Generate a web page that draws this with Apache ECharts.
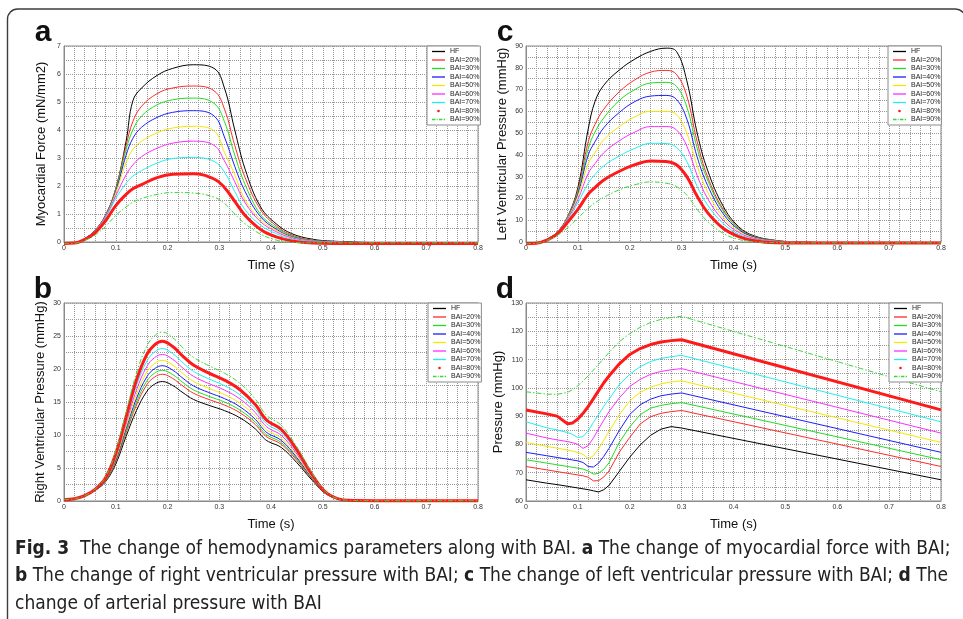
<!DOCTYPE html>
<html>
<head>
<meta charset="utf-8">
<title>Fig. 3 hemodynamics vs BAI</title>
<script src="https://cdn.jsdelivr.net/npm/echarts@6/dist/echarts.min.js"></script>
<style>
  html, body { margin: 0; padding: 0; background: #fff; }
  #chart { width: 963px; height: 619px; }
</style>
</head>
<body>
<div id="chart"></div>
<script>
// legend names, same for all four panels
const seriesNames = ['HF', 'BAI=20%', 'BAI=30%', 'BAI=40%', 'BAI=50%', 'BAI=60%', 'BAI=70%', 'BAI=80%', 'BAI=90%'];
const xTicks = [0, 0.1, 0.2, 0.3, 0.4, 0.5, 0.6, 0.7, 0.8];

// a: myocardial force (mN/mm2)
const timeA = [0, 0.02, 0.04, 0.06, 0.08, 0.1, 0.12, 0.133, 0.15, 0.18, 0.21, 0.25, 0.29, 0.31, 0.33, 0.35, 0.38, 0.41, 0.44, 0.48, 0.52, 0.6, 0.7, 0.8];
const forceHF  = [-0.05, -0.03, 0.12, 0.42, 0.95, 1.9, 3.6, 5.04, 5.5, 5.95, 6.2, 6.33, 6.2, 5.5, 4.0, 2.6, 1.25, 0.65, 0.3, 0.1, 0.03, -0.02, -0.03, -0.02];
const force20  = [-0.05, -0.03, 0.12, 0.42, 0.95, 1.9, 3.45, 4.3, 4.85, 5.3, 5.5, 5.57, 5.4, 4.75, 3.45, 2.3, 1.15, 0.58, 0.25, 0.07, 0.01, -0.03, -0.03, -0.02];
const force30  = [-0.05, -0.03, 0.12, 0.41, 0.93, 1.85, 3.3, 4.0, 4.5, 4.9, 5.08, 5.14, 4.95, 4.3, 3.1, 2.05, 0.98, 0.52, 0.22, 0.06, 0.01, -0.03, -0.03, -0.02];
const force40  = [-0.05, -0.03, 0.12, 0.41, 0.92, 1.8, 3.1, 3.7, 4.1, 4.45, 4.63, 4.69, 4.5, 3.75, 2.7, 1.8, 0.9, 0.46, 0.19, 0.05, 0.0, -0.03, -0.03, -0.02];
const force50  = [-0.05, -0.03, 0.11, 0.4, 0.9, 1.75, 2.85, 3.3, 3.6, 3.9, 4.07, 4.13, 3.97, 3.2, 2.4, 1.5, 0.8, 0.42, 0.17, 0.04, 0.0, -0.03, -0.03, -0.02];
const force60  = [-0.05, -0.03, 0.11, 0.39, 0.88, 1.65, 2.4, 2.75, 3.05, 3.35, 3.53, 3.6, 3.45, 2.9, 2.15, 1.4, 0.72, 0.37, 0.15, 0.03, 0.0, -0.03, -0.03, -0.02];
const force70  = [-0.05, -0.03, 0.1, 0.37, 0.85, 1.55, 2.1, 2.35, 2.55, 2.82, 2.98, 3.02, 2.88, 2.5, 1.8, 1.15, 0.6, 0.3, 0.11, 0.02, -0.01, -0.03, -0.03, -0.02];
const force80  = [-0.05, -0.04, 0.09, 0.33, 0.75, 1.3, 1.7, 1.9, 2.05, 2.3, 2.42, 2.44, 2.25, 1.95, 1.45, 0.95, 0.45, 0.18, 0.04, -0.04, -0.05, -0.05, -0.05, -0.05];
const force90  = [-0.05, -0.04, 0.06, 0.25, 0.55, 0.95, 1.25, 1.42, 1.55, 1.7, 1.77, 1.75, 1.6, 1.38, 1.0, 0.65, 0.28, 0.07, -0.01, -0.03, -0.03, -0.03, -0.03, -0.03];

// b: right ventricular pressure (mmHg)
const timeB = [0, 0.02, 0.04, 0.06, 0.08, 0.1, 0.12, 0.14, 0.16, 0.175, 0.19, 0.21, 0.23, 0.25, 0.28, 0.31, 0.34, 0.37, 0.385, 0.395, 0.42, 0.45, 0.48, 0.51, 0.55, 0.6, 0.8];
const rvHF = [0.2, 0.35, 0.8, 1.6, 2.9, 5.6, 9.8, 13.7, 16.6, 17.7, 18.1, 17.5, 16.4, 15.4, 14.5, 13.7, 12.6, 10.9, 9.6, 9.0, 8.1, 5.8, 3.1, 0.9, 0.1, 0.05, 0.05];
const rv20 = [0.2, 0.35, 0.8, 1.63, 3.0, 5.89, 10.34, 14.54, 17.61, 18.78, 19.2, 18.57, 17.4, 16.34, 15.38, 14.54, 13.37, 11.56, 10.19, 9.55, 8.59, 6.15, 3.25, 0.93, 0.1, 0.05, 0.05];
const rv30 = [0.2, 0.35, 0.8, 1.64, 3.06, 6.05, 10.63, 14.99, 18.16, 19.36, 19.8, 19.15, 17.94, 16.85, 15.86, 14.99, 13.78, 11.92, 10.5, 9.85, 8.86, 6.35, 3.33, 0.97, 0.1, 0.05, 0.05];
const rv40 = [0.2, 0.35, 0.8, 1.66, 3.13, 6.23, 10.98, 15.52, 18.81, 20.05, 20.5, 19.83, 18.58, 17.45, 16.43, 15.52, 14.28, 12.35, 10.88, 10.2, 9.18, 6.57, 3.43, 0.98, 0.1, 0.05, 0.05];
const rv50 = [0.2, 0.35, 0.8, 1.68, 3.21, 6.44, 11.36, 16.12, 19.54, 20.83, 21.3, 20.6, 19.3, 18.13, 17.07, 16.12, 14.83, 12.83, 11.3, 10.59, 9.53, 6.83, 3.54, 1.0, 0.1, 0.05, 0.05];
const rv60 = [0.2, 0.35, 0.8, 1.71, 3.29, 6.68, 11.8, 16.81, 20.37, 21.72, 22.2, 21.47, 20.12, 18.9, 17.79, 16.81, 15.46, 13.37, 11.78, 11.04, 9.94, 7.12, 3.66, 1.02, 0.1, 0.05, 0.05];
const rv70 = [0.2, 0.35, 0.8, 1.73, 3.38, 6.91, 12.23, 17.48, 21.18, 22.59, 23.1, 22.33, 20.93, 19.65, 18.5, 17.48, 16.08, 13.91, 12.25, 11.48, 10.34, 7.4, 3.79, 1.05, 0.1, 0.05, 0.05];
const rv80 = [0.2, 0.35, 0.8, 1.76, 3.49, 7.2, 12.77, 18.32, 22.19, 23.66, 24.2, 23.4, 21.93, 20.59, 19.39, 18.32, 16.85, 14.57, 12.84, 12.03, 10.83, 7.75, 3.94, 1.08, 0.1, 0.05, 0.05];
const rv90 = [0.2, 0.35, 0.8, 1.8, 3.62, 7.57, 13.46, 19.37, 23.47, 25.03, 25.6, 24.75, 23.19, 21.78, 20.5, 19.37, 17.82, 15.41, 13.57, 12.73, 11.45, 8.2, 4.13, 1.12, 0.1, 0.05, 0.05];

// c: left ventricular pressure (mmHg)
const timeC = [0, 0.02, 0.04, 0.06, 0.08, 0.1, 0.12, 0.133, 0.15, 0.18, 0.21, 0.24, 0.27, 0.29, 0.31, 0.33, 0.35, 0.38, 0.41, 0.44, 0.48, 0.52, 0.6, 0.7, 0.8];
const lvHF = [-0.8, -0.5, 1.2, 4.5, 11.5, 25, 52, 64.5, 72, 79, 84, 87.5, 89, 87.5, 74, 50, 33, 16.5, 7, 2.8, 0.8, 0, -0.3, -0.3, -0.3];
const lv20 = [-0.8, -0.5, 1.2, 4.5, 11.5, 24, 46, 54, 61, 69, 74.5, 78, 78.8, 77, 67, 46, 30, 15, 6.5, 2.5, 0.7, 0, -0.3, -0.3, -0.3];
const lv30 = [-0.8, -0.5, 1.2, 4.5, 11.3, 23, 43, 50.5, 57, 65, 70, 73, 73.3, 71.5, 62, 43, 28.5, 14.3, 6.2, 2.4, 0.6, 0, -0.3, -0.3, -0.3];
const lv40 = [-0.8, -0.5, 1.2, 4.4, 11, 22, 40, 46, 52.5, 59.5, 64.5, 67, 67.3, 65.5, 56.5, 39, 26, 13, 5.7, 2.2, 0.5, 0, -0.3, -0.3, -0.3];
const lv50 = [-0.8, -0.5, 1.1, 4.3, 10.8, 21, 36, 41, 47, 53, 57.5, 60, 60, 58.5, 50, 35, 23, 11.5, 5, 1.9, 0.4, 0, -0.3, -0.3, -0.3];
const lv60 = [-0.8, -0.5, 1.1, 4.2, 10.5, 19.5, 31.5, 36, 41, 46.5, 50.5, 53, 53, 51.5, 44, 30.5, 20, 10, 4.4, 1.6, 0.3, -0.1, -0.3, -0.3, -0.3];
const lv70 = [-0.8, -0.5, 1.0, 4.0, 10, 18, 27, 31, 35, 39.5, 43, 45.3, 45.2, 43.5, 37, 25.5, 17, 8.5, 3.6, 1.2, 0.2, -0.2, -0.3, -0.3, -0.3];
const lv80 = [-0.8, -0.6, 0.9, 3.6, 9, 15, 22, 25, 28.5, 32.5, 35.5, 37.2, 37, 35.5, 30, 21, 13.5, 6.3, 2.5, 0.6, -0.4, -0.5, -0.5, -0.5, -0.5];
const lv90 = [-0.8, -0.6, 0.7, 3, 6.5, 11, 15.5, 18, 20.5, 24, 26.3, 27.6, 27, 25.5, 21.5, 15, 9.5, 4, 1.2, 0.1, -0.3, -0.4, -0.4, -0.4, -0.4];

// d: arterial pressure (mmHg)
const timeD = [0, 0.04, 0.06, 0.08, 0.09, 0.1, 0.11, 0.12, 0.13, 0.14, 0.15, 0.16, 0.18, 0.2, 0.22, 0.24, 0.26, 0.28, 0.3, 0.8];
const apHF = [67.5, 66.3, 65.8, 65.2, 64.9, 64.6, 64.3, 64.0, 63.6, 63.2, 64.0, 65.5, 70.5, 75.5, 79.8, 83.2, 85.4, 86.3, 85.8, 67.5];
const ap20 = [72.2, 71.0, 70.4, 69.8, 69.5, 69.2, 68.9, 68.4, 67.1, 67.2, 68.5, 70.6, 77.3, 82.5, 87.2, 89.8, 91.0, 91.6, 92.0, 72.2];
const ap30 = [74.6, 73.4, 72.8, 72.2, 71.9, 71.6, 71.3, 70.6, 69.5, 69.8, 71.2, 73.5, 80.8, 86.2, 90.5, 92.8, 93.8, 94.4, 94.8, 74.6];
const ap40 = [77.2, 76.0, 75.4, 74.8, 74.5, 74.2, 73.6, 72.2, 72.0, 73.4, 75.8, 78.6, 85.0, 90.6, 94.0, 96.0, 97.2, 97.8, 98.2, 77.2];
const ap50 = [80.7, 79.3, 78.7, 78.0, 77.6, 77.1, 76.5, 75.0, 76.0, 78.5, 81.5, 84.6, 90.5, 95.4, 98.4, 100.2, 101.4, 102.1, 102.5, 80.7];
const ap60 = [84.0, 82.3, 81.6, 81.0, 80.6, 80.0, 78.6, 79.6, 82.3, 85.5, 88.6, 91.6, 96.5, 100.5, 103.0, 104.8, 105.8, 106.4, 106.8, 84.0];
const ap70 = [88.0, 85.9, 85.1, 84.2, 83.5, 82.4, 82.8, 84.8, 87.8, 90.6, 93.5, 96.0, 101.2, 104.8, 107.5, 109.3, 110.4, 111.0, 111.5, 88.0];
const ap80 = [92.2, 90.8, 90.0, 87.3, 87.6, 89.0, 91.0, 93.4, 96.2, 99.0, 101.8, 104.2, 108.5, 111.8, 113.9, 115.3, 116.2, 116.7, 117.0, 92.2];
const ap90 = [98.6, 97.8, 97.7, 98.4, 99.4, 100.8, 102.4, 104.3, 106.3, 108.3, 110.4, 112.5, 116.3, 119.2, 121.4, 123.1, 124.2, 124.9, 125.3, 98.6];

// MATLAB style line specs: k, r, g, b, y, m, c, r*, g-.
const lineColors = ['#000000', '#ff2a2a', '#22dd22', '#1c1cff', '#f5e800', '#ff2cff', '#22eef0', '#ff1a1a', '#3ad83a'];
const lineWidths = [1, 1, 1, 1, 1, 1, 1, 3, 1];
const solidIcon = 'path://M0,0H30V3H0Z';
const lineIcons = [solidIcon, solidIcon, solidIcon, solidIcon, solidIcon, solidIcon, solidIcon,
  'path://M0,0M30,6M12,3a3,3 0 1,0 6,0a3,3 0 1,0 -6,0Z',
  'path://M0,0H8V3H0Z M11,0H13V3H11Z M16,0H24V3H16Z M27,0H30V3H27Z'];

const panels = [
  { letter: 'a', times: timeA, rows: [forceHF, force20, force30, force40, force50, force60, force70, force80, force90],
    yMin: 0, yMax: 7, yStep: 1, yTitle: 'Myocardial Force (mN/mm2)', smooth: 0.4,
    grid: { left: 64, top: 46, width: 414, height: 196 }, legendLeft: 427, nameGap: 16 },
  { letter: 'b', times: timeB, rows: [rvHF, rv20, rv30, rv40, rv50, rv60, rv70, rv80, rv90],
    yMin: 0, yMax: 30, yStep: 5, yTitle: 'Right Ventricular Pressure (mmHg)', smooth: 0.4,
    grid: { left: 64, top: 303, width: 414, height: 198 }, legendLeft: 428, nameGap: 17 },
  { letter: 'c', times: timeC, rows: [lvHF, lv20, lv30, lv40, lv50, lv60, lv70, lv80, lv90],
    yMin: 0, yMax: 90, yStep: 10, yTitle: 'Left Ventricular Pressure (mmHg)', smooth: 0.4,
    grid: { left: 526, top: 46, width: 415, height: 196 }, legendLeft: 888, nameGap: 17 },
  { letter: 'd', times: timeD, rows: [apHF, ap20, ap30, ap40, ap50, ap60, ap70, ap80, ap90],
    yMin: 60, yMax: 130, yStep: 10, yTitle: 'Pressure (mmHg)', smooth: false,
    grid: { left: 526, top: 303, width: 415, height: 198 }, legendLeft: 889, nameGap: 21 }
];

const axisFont = 'Liberation Sans';
const gridLine = { show: true, lineStyle: { color: '#999999', type: 'dotted', width: 1 } };

let grids = [], xAxes = [], yAxes = [], legends = [], series = [], graphics = [];

panels.forEach((p, pi) => {
  grids.push(Object.assign({ show: true, borderColor: '#8a8a8a', borderWidth: 1, backgroundColor: '#fff' }, p.grid));
  xAxes.push({
    type: 'value', gridIndex: pi, min: 0, max: 0.8, interval: 0.1,
    name: 'Time (s)', nameLocation: 'middle', nameGap: 17,
    nameTextStyle: { fontFamily: axisFont, fontSize: 13, color: '#111' },
    axisLine: { show: true, lineStyle: { color: '#8a8a8a' } },
    axisTick: { show: false },
    axisLabel: { fontFamily: axisFont, fontSize: 7, color: '#333', margin: 3,
      formatter: v => String(xTicks.find(t => Math.abs(t - v) < 1e-6) ?? v) },
    splitLine: gridLine,
    minorTick: { show: false, splitNumber: 5 },
    minorSplitLine: gridLine
  });
  yAxes.push({
    type: 'value', gridIndex: pi, min: p.yMin, max: p.yMax, interval: p.yStep,
    name: p.yTitle, nameLocation: 'middle', nameGap: p.nameGap,
    nameTextStyle: { fontFamily: axisFont, fontSize: 13, color: '#111' },
    axisLine: { show: true, lineStyle: { color: '#8a8a8a' } },
    axisTick: { show: false },
    axisLabel: { fontFamily: axisFont, fontSize: 7, color: '#333', margin: 3 },
    splitLine: gridLine,
    minorTick: { show: false, splitNumber: 2 },
    minorSplitLine: gridLine
  });
  legends.push({
    orient: 'vertical', left: p.legendLeft, top: p.grid.top,
    padding: [2, 1, 2, 5], itemGap: 1.5, itemWidth: 13, itemHeight: 7,
    backgroundColor: '#fff', borderColor: '#8a8a8a', borderWidth: 1,
    selectedMode: false,
    textStyle: { fontFamily: axisFont, fontSize: 7, color: '#222', lineHeight: 7 },
    data: seriesNames.map((n, i) => ({ name: n, icon: lineIcons[i],
      itemStyle: { color: lineColors[i] } }))
  });
  p.rows.forEach((vals, i) => {
    series.push({
      name: seriesNames[i], type: 'line', xAxisIndex: pi, yAxisIndex: pi,
      data: p.times.map((t, k) => [t, vals[k]]),
      symbol: 'none', showSymbol: false, smooth: p.smooth,
      clip: false, silent: true, animation: false,
      lineStyle: { color: lineColors[i], width: lineWidths[i], type: i === 8 ? [5, 2, 1.5, 2] : 'solid' },
      itemStyle: { color: lineColors[i] }
    });
  });
  graphics.push({
    type: 'text', x: p.grid.left - 21, y: p.grid.top - 13,
    style: { text: p.letter, font: 'bold 30px "Liberation Sans"', fill: '#111', textAlign: 'center', textVerticalAlign: 'middle' }
  });
});

// page frame (rounded top-left corner, right/bottom edges run off the page) and caption
graphics.unshift({
  type: 'rect', z: -10, silent: true,
  shape: { x: 7.5, y: 9, width: 958, height: 700, r: 10 },
  style: { fill: 'none', stroke: '#3c3c3c', lineWidth: 1.4 }
});
const captionFont = '"Liberation Sans Narrow", "DejaVu Sans Condensed", sans-serif';
graphics.push({
  type: 'text', x: 15, y: 535,
  style: {
    text: '{b|Fig. 3}  The change of hemodynamics parameters along with BAI. {b|a} The change of myocardial force with BAI;\n' +
          '{b|b} The change of right ventricular pressure with BAI; {b|c} The change of left ventricular pressure with BAI; {b|d} The\n' +
          'change of arterial pressure with BAI',
    fontFamily: captionFont, fontSize: 19, lineHeight: 27.5, fill: '#222', textVerticalAlign: 'top',
    rich: { b: { fontFamily: captionFont, fontSize: 19, fontWeight: 'bold', lineHeight: 27.5, fill: '#222' } }
  }
});

const chart = echarts.init(document.getElementById('chart'), null, { renderer: 'canvas' });
chart.setOption({
  backgroundColor: '#fff',
  animation: false,
  grid: grids, xAxis: xAxes, yAxis: yAxes, legend: legends,
  series: series, graphic: graphics
});
</script>
</body>
</html>
